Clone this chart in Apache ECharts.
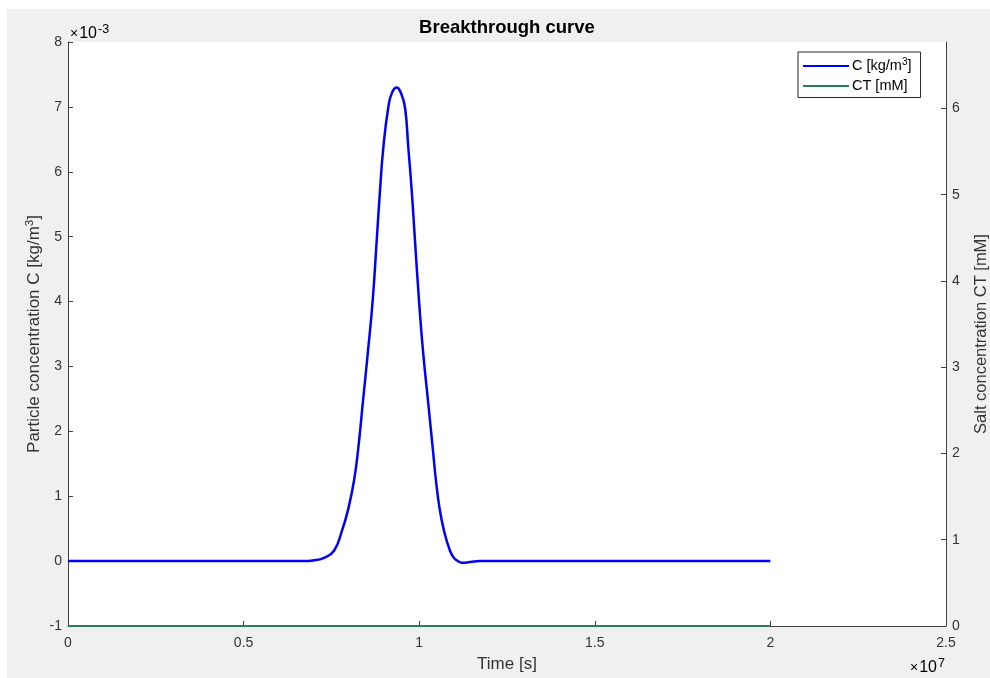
<!DOCTYPE html>
<html>
<head>
<meta charset="utf-8">
<script src="https://cdn.jsdelivr.net/npm/echarts@6/dist/echarts.min.js"></script>
<style>
  html, body { margin: 0; padding: 0; background: #ffffff; }
  #chart { position: absolute; left: 7px; top: 9px; width: 983px; height: 669px; }
</style>
</head>
<body>
<div id="chart"></div>
<script>
// Breakthrough curve: particle concentration C and salt concentration CT vs time
const timeS = [0, 5.0e6, 6.70e6, 6.976e6, 7.289e6, 7.574e6, 7.802e6, 7.987e6, 8.144e6, 8.257e6, 8.400e6,
  8.542e6, 8.676e6, 8.790e6, 8.884e6, 8.978e6, 9.120e6, 9.226e6, 9.359e6, 9.482e6, 9.596e6,
  9.690e6, 9.787e6, 9.880e6, 9.994e6, 10.108e6, 10.251e6, 10.393e6, 10.478e6, 10.578e6, 10.706e6,
  10.877e6, 10.991e6, 11.076e6, 11.219e6, 11.446e6, 11.731e6, 13.0e6, 20.0e6];
const concC = [0, 0, 0, 0.01e-3, 0.05e-3, 0.16e-3, 0.47e-3, 0.82e-3, 1.24e-3, 1.70e-3, 2.47e-3,
  3.24e-3, 4.02e-3, 4.94e-3, 5.71e-3, 6.37e-3, 6.99e-3, 7.22e-3, 7.30e-3, 7.21e-3, 6.99e-3,
  6.37e-3, 5.71e-3, 4.94e-3, 4.02e-3, 3.24e-3, 2.47e-3, 1.70e-3, 1.24e-3, 0.82e-3, 0.47e-3,
  0.16e-3, 0.05e-3, 0.01e-3, -0.025e-3, -0.015e-3, 0, 0, 0];
const ctTime = [0, 20.0e6];
const concCT = [0, 0];

const xTicks = ['0', '0.5', '1', '1.5', '2', '2.5'];
const leftTicks = ['-1', '0', '1', '2', '3', '4', '5', '6', '7', '8'];

const FONT = "'Liberation Sans', Arial, Helvetica, sans-serif";
const TXT = '#333333';
const AX = '#404040';

const chart = echarts.init(document.getElementById('chart'));

const supRich = {
  a: { fontFamily: FONT, fontSize: 17, color: TXT },
  s: { fontFamily: FONT, fontSize: 11.5, color: TXT, verticalAlign: 'top', padding: [0, 0, 9, 0] }
};
const expRich = {
  x: { fontFamily: FONT, fontSize: 14, color: '#666', padding: [0, 1, 0, 0] },
  a: { fontFamily: FONT, fontSize: 16, color: TXT },
  s: { fontFamily: FONT, fontSize: 12.5, color: TXT, verticalAlign: 'top', padding: [0, 0, 9, 1] }
};

chart.setOption({
  backgroundColor: '#f0f0f0',
  animation: false,
  grid: {
    left: 61, right: 44, top: 33, bottom: 52,
    outerBoundsMode: 'none',
    show: true, backgroundColor: '#ffffff', borderWidth: 0
  },
  legend: {
    left: 791, top: 43, orient: 'vertical',
    backgroundColor: '#ffffff', borderColor: '#262626', borderWidth: 1,
    padding: [5, 9, 4, 5], itemGap: 5,
    icon: 'rect', itemWidth: 46, itemHeight: 2.2,
    textStyle: { fontFamily: FONT, fontSize: 14.5, color: '#000', padding: [0, 0, 0, -2], rich: {
      a: { fontFamily: FONT, fontSize: 14.5, color: '#000' },
      s: { fontFamily: FONT, fontSize: 10, color: '#000', verticalAlign: 'top', padding: [0, 0, 8, 0] }
    } },
    formatter: function (name) {
      return name === 'C' ? '{a|C [kg/m}{s|3}{a|]}' : '{a|CT [mM]}';
    },
    data: ['C', 'CT']
  },
  xAxis: {
    type: 'value', min: 0, max: 2.5e7, interval: 0.5e7,
    name: 'Time [s]', nameLocation: 'middle', nameGap: 30, nameMoveOverlap: false,
    nameTextStyle: { fontFamily: FONT, fontSize: 17, color: TXT },
    axisLine: { show: true, onZero: false, lineStyle: { color: AX, width: 1 } },
    axisTick: { show: true, inside: true, length: 5, lineStyle: { color: AX } },
    axisLabel: {
      fontFamily: FONT, fontSize: 14, color: TXT, margin: 10,
      formatter: function (v) { return xTicks[Math.round(v / 0.5e7)]; }
    },
    splitLine: { show: false }
  },
  yAxis: [{
    type: 'value', min: -0.001, max: 0.008, interval: 0.001, position: 'left',
    name: '{a|Particle concentration C [kg/m}{s|3}{a|]}',
    nameLocation: 'middle', nameGap: 23, nameRotate: 90, nameMoveOverlap: false,
    nameTextStyle: { fontFamily: FONT, fontSize: 17, color: TXT, rich: supRich },
    axisLine: { show: true, onZero: false, lineStyle: { color: AX, width: 1 } },
    axisTick: { show: true, inside: true, length: 5, lineStyle: { color: AX } },
    axisLabel: {
      fontFamily: FONT, fontSize: 14, color: TXT, margin: 6,
      formatter: function (v) { return leftTicks[Math.round(v * 1000) + 1]; }
    },
    splitLine: { show: false }
  }, {
    type: 'value', min: 0, max: 6.77, interval: 1, position: 'right',
    name: 'Salt concentration CT [mM]',
    nameLocation: 'middle', nameGap: 27, nameRotate: 90, nameMoveOverlap: false,
    nameTextStyle: { fontFamily: FONT, fontSize: 16.5, color: TXT },
    axisLine: { show: true, onZero: false, lineStyle: { color: AX, width: 1 } },
    axisTick: { show: true, inside: true, length: 5, lineStyle: { color: AX } },
    axisLabel: { fontFamily: FONT, fontSize: 14, color: TXT, margin: 6, showMaxLabel: false },
    splitLine: { show: false }
  }],
  graphic: [{
    type: 'text', x: 500, y: 19,
    style: {
      text: 'Breakthrough curve', textAlign: 'center', textVerticalAlign: 'middle',
      fontFamily: FONT, fontSize: 18.5, fontWeight: 'bold', fill: '#000'
    }
  }, {
    type: 'text', left: 63, top: 14,
    style: { text: '{x|×}{a|10}{s|-3}', rich: expRich }
  }, {
    type: 'text', left: 903, top: 648,
    style: { text: '{x|×}{a|10}{s|7}', rich: expRich }
  }],
  series: [{
    name: 'C', type: 'line', yAxisIndex: 0,
    data: timeS.map(function (t, i) { return [t, concC[i]]; }),
    showSymbol: false, smooth: 0.5,
    lineStyle: { color: '#0000ff', width: 2.5 },
    itemStyle: { color: '#0000ff' }
  }, {
    name: 'CT', type: 'line', yAxisIndex: 1,
    data: ctTime.map(function (t, i) { return [t, concCT[i]]; }),
    showSymbol: false,
    lineStyle: { color: '#2a7d63', width: 2 },
    itemStyle: { color: '#2a7d63' }
  }]
});
</script>
</body>
</html>
